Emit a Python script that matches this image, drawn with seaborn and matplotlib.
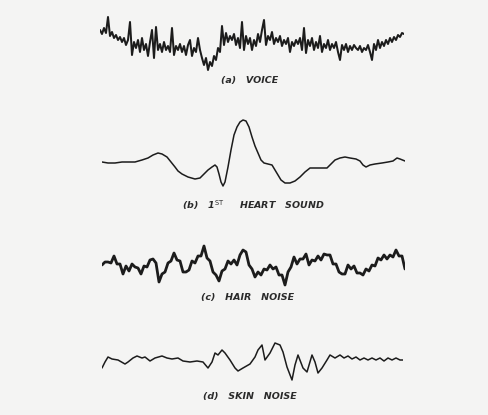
import numpy as np
import pandas as pd
import matplotlib
matplotlib.use("Agg")
import matplotlib.pyplot as plt
import seaborn as sns

# ---------------- data (amplitudes) ----------------
voice_values = [15, 11, 17, 12, 28, 9, 13, 7, 10, 5, 8, 3, 7, 0, 5, 23, -10, 3, -3, 5,
                -7, 7, -5, 1, -11, 3, 15, -13, 18, -5, 1, -7, 3, -5, -1, -7, 17, -10, -1, -5,
                1, -7, -1, -10, 0, 5, -11, -3, -7, 7, -5, -13, -20, -13, -25, -17, -21, -11, -15, -3,
                -7, 19, 0, 12, 3, 9, 5, 11, 0, 7, -3, 23, -5, 9, 1, 7, -5, 5, -1, 11,
                3, 15, 25, 0, 9, 5, 13, 1, 7, 3, 9, -1, 5, 1, 7, -7, 3, -1, 5, 1,
                7, -5, 17, -8, 5, -1, 7, -5, 3, -3, 9, -7, 1, -3, 5, -5, 1, -3, 3, -7,
                -15, 0, -5, 1, -7, -1, -5, 0, -3, -5, -1, -7, -3, -5, 0, -7, -15, 1, -5, 5,
                -3, 3, -1, 5, 1, 7, 3, 8, 5, 10, 8, 12, 11]

heart_time = [0, 6, 13, 20, 26, 33, 40, 46, 51, 56, 60, 65, 69, 73, 76, 80, 86, 93, 98, 102,
              106, 110, 113, 115, 117, 119, 121, 123, 126, 129, 132, 135, 138, 141, 144, 147, 150, 153, 156, 159,
              162, 166, 170, 173, 176, 179, 183, 188, 193, 198, 203, 208, 214, 220, 225, 229, 233, 238, 243, 248,
              254, 258, 261, 264, 268, 273, 280, 286, 291, 295, 298, 303]
heart_values = [1, 0, 0, 1, 1, 1, 3, 5, 8, 10, 9, 6, 1, -4, -8, -11, -14, -16, -15, -11,
                -7, -4, -2, -4, -11, -19, -23, -19, -4, 13, 28, 36, 41, 43, 42, 36, 26, 17, 10, 3,
                0, -1, -2, -7, -12, -17, -20, -20, -18, -14, -9, -5, -5, -5, -5, -1, 3, 5, 6, 5,
                4, 2, -2, -4, -2, -1, 0, 1, 2, 5, 4, 2]

hair_values = [0, 3, 3, 2, 9, 1, 1, -9, -1, -6, 1, -2, -3, -9, -1, -2, 5, 6, 2, -17,
               -9, -7, 2, 4, 12, 5, 4, -7, -7, -5, 4, 2, 9, 9, 19, 7, 4, -7, -10, -16,
               -6, -4, 4, 1, 5, 0, 10, 15, 13, 0, -4, -12, -7, -10, -4, -5, 0, -4, -2, -10,
               -10, -20, -7, -2, 8, 1, 6, 6, 11, 0, 5, 4, 9, 5, 11, 10, 10, 1, 1, -7,
               -9, -9, 0, -4, -1, -8, -8, -10, -4, -6, 0, -1, 7, 5, 10, 6, 10, 8, 15, 9,
               9, -4]

skin_time = [0, 3, 6, 10, 16, 23, 26, 31, 35, 40, 43, 48, 53, 60, 65, 70, 76, 81, 88, 95,
             101, 106, 110, 113, 116, 120, 123, 128, 133, 136, 141, 148, 153, 156, 160, 163, 168, 173, 178, 181,
             185, 190, 193, 196, 201, 205, 210, 213, 216, 220, 225, 228, 233, 238, 242, 246, 250, 254, 258, 262,
             266, 270, 274, 278, 282, 286, 290, 294, 298, 301]
skin_values = [-8, -2, 3, 1, 0, -4, -2, 2, 4, 2, 3, -1, 2, 4, 2, 1, 2, -1, -2, -1,
               -2, -8, -2, 7, 5, 10, 7, 0, -8, -11, -8, -4, 3, 10, 15, 0, 7, 17, 15, 8,
               -7, -20, -5, 5, -8, -12, 5, -2, -13, -8, 0, 5, 2, 5, 2, 4, 1, 3, 0, 2,
               0, 2, 0, 2, -1, 2, 0, 2, 0, 0]

labels = ["(a)   VOICE", "(b)   1$^{\\mathrm{ST}}$     HEART   SOUND",
          "(c)   HAIR   NOISE", "(d)   SKIN   NOISE"]

# ---------------- drawing ----------------
sns.set_style("white")
plt.rcParams["font.family"] = ["DejaVu Sans"]
plt.rcParams["mathtext.fontset"] = "dejavusans"

W, H = 489, 415
paper = "#f4f4f3"
ink = "#1c1c1c"
fig = plt.figure(figsize=(W / 100, H / 100), dpi=100, facecolor=paper)


def add_px_axes(x0, y0, x1, y1):
    return fig.add_axes([x0 / W, 1 - y1 / H, (x1 - x0) / W, (y1 - y0) / H])


panels = [
    # (x values, y values, axes px box, xlim, ylim, linewidth, label y px, label x px)
    (np.arange(len(voice_values)), voice_values, (100, 10, 404, 80), (0, len(voice_values) - 1), (-35, 35), 1.45, 80, 250),
    (heart_time, heart_values, (102, 110, 405, 195), (0, 303), (-32, 53), 1.1, 205, 253),
    (np.arange(len(hair_values)), hair_values, (102, 235, 405, 295), (0, len(hair_values) - 1), (-30, 30), 2.0, 297, 248),
    (skin_time, skin_values, (102, 335, 403, 390), (0, 301), (-30, 25), 1.1, 396, 250),
]

for (xs, ys, box, xl, yl, lw, ly, lx), lab in zip(panels, labels):
    ax = add_px_axes(*box)
    df = pd.DataFrame({"t": xs, "v": ys})
    sns.lineplot(data=df, x="t", y="v", ax=ax, color=ink, linewidth=lw,
                 estimator=None, sort=False)
    ax.set_xlim(*xl)
    ax.set_ylim(*yl)
    ax.set_axis_off()
    fig.text(lx / W, 1 - ly / H, lab, ha="center", va="center", fontsize=6.8,
             fontstyle="oblique", fontweight="bold", color="#2a2a2a")

fig.savefig("out.png", dpi=100, facecolor=paper)
